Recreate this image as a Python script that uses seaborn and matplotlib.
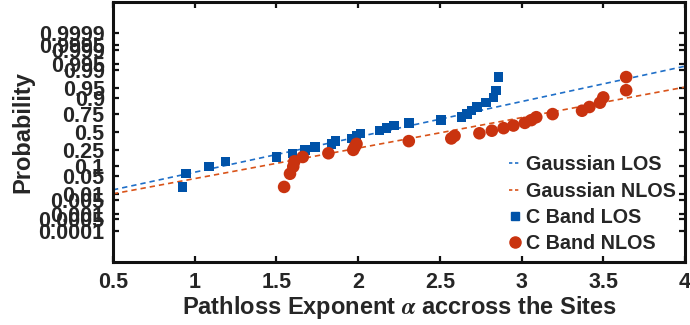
import numpy as np
import pandas as pd
import matplotlib
matplotlib.use("Agg")
import matplotlib.pyplot as plt
from matplotlib.lines import Line2D
import seaborn as sns
from statistics import NormalDist

# Pathloss exponents measured across the sites
alpha_los = [0.924, 0.947, 1.088, 1.19, 1.50, 1.60, 1.675, 1.736, 1.838, 1.863,
             1.96, 1.99, 2.016, 2.13, 2.175, 2.22, 2.31, 2.507, 2.634, 2.665,
             2.695, 2.726, 2.783, 2.827, 2.844, 2.858]
alpha_nlos = [1.547, 1.583, 1.603, 1.61, 1.661, 1.818, 1.97, 1.98, 1.99, 2.31,
              2.57, 2.59, 2.742, 2.818, 2.89, 2.95, 3.02, 3.06, 3.09, 3.19,
              3.37, 3.415, 3.48, 3.50, 3.64, 3.64]

# Fitted Gaussian parameters (mean, std) for each condition
gauss_los = (2.138, 0.751)
gauss_nlos = (2.528, 0.870)

prob_ticks = [0.0001, 0.0005, 0.001, 0.005, 0.01, 0.05, 0.1, 0.25, 0.5,
              0.75, 0.9, 0.95, 0.99, 0.995, 0.999, 0.9995, 0.9999]
x_ticks = [0.5, 1, 1.5, 2, 2.5, 3, 3.5, 4]

sns.set_style("ticks")
plt.rcParams["font.family"] = ["Liberation Sans", "DejaVu Sans"]
plt.rcParams["font.weight"] = "bold"
plt.rcParams["mathtext.fontset"] = "stix"

nd = NormalDist()
_inv = np.vectorize(nd.inv_cdf, otypes=[float])
_cdf = np.vectorize(nd.cdf, otypes=[float])


def ppf(p):
    p = np.asarray(p, dtype=float)
    out = np.full(p.shape, np.nan)
    ok = np.isfinite(p)
    if ok.any():
        out[ok] = _inv(np.clip(p[ok], 1e-15, 1 - 1e-15))
    return out


def cdf(z):
    z = np.asarray(z, dtype=float)
    out = np.full(z.shape, np.nan)
    ok = ~np.isnan(z)
    if ok.any():
        out[ok] = _cdf(np.clip(z[ok], -40, 40))
    return out


def plotting_positions(values):
    v = np.sort(np.asarray(values, dtype=float))
    n = len(v)
    return v, (np.arange(1, n + 1) - 0.5) / n


x_los, p_los = plotting_positions(alpha_los)
x_nlos, p_nlos = plotting_positions(alpha_nlos)
pts_los = pd.DataFrame({"alpha": x_los, "prob": p_los})
pts_nlos = pd.DataFrame({"alpha": x_nlos, "prob": p_nlos})

xg = np.linspace(0.5, 4.0, 200)
fits = pd.concat([
    pd.DataFrame({"alpha": xg, "prob": cdf((xg - gauss_los[0]) / gauss_los[1]),
                  "series": "Gaussian LOS"}),
    pd.DataFrame({"alpha": xg, "prob": cdf((xg - gauss_nlos[0]) / gauss_nlos[1]),
                  "series": "Gaussian NLOS"}),
], ignore_index=True)

fig = plt.figure(figsize=(6.9, 3.25), dpi=100)
ax = fig.add_axes([113 / 690, 1 - 262 / 325, 572 / 690, 260 / 325])
ax.set_yscale("function", functions=(ppf, cdf))

line_colors = {"Gaussian LOS": "#1f6fc8", "Gaussian NLOS": "#d95319"}
sns.lineplot(data=fits, x="alpha", y="prob", hue="series", palette=line_colors,
             ax=ax, linewidth=1.2, legend=False, estimator=None, sort=False)
for ln in ax.get_lines():
    ln.set_linestyle((0, (3.2, 2.4)))

marker_colors = {"C Band LOS": "#0052a8", "C Band NLOS": "#c9330f"}
sns.scatterplot(data=pts_los, x="alpha", y="prob",
                color=marker_colors["C Band LOS"], marker="s", s=46,
                edgecolor="none", ax=ax, zorder=3, legend=False)
sns.scatterplot(data=pts_nlos, x="alpha", y="prob",
                color=marker_colors["C Band NLOS"], marker="o", s=82,
                edgecolor="none", ax=ax, zorder=3, legend=False)

lim = nd.cdf(-4.9)
ax.set_xlim(0.5, 4.0)
ax.set_ylim(lim, 1 - lim)
ax.set_xticks(x_ticks)
ax.set_xticklabels([f"{t:g}" for t in x_ticks])
ax.set_yticks(prob_ticks)
ax.set_yticklabels([f"{t:g}" for t in prob_ticks])
ax.minorticks_off()

for sp in ax.spines.values():
    sp.set_linewidth(2.2)
    sp.set_color("#111111")
ax.tick_params(direction="in", length=4.5, width=1.6, labelsize=15.5,
               top=True, right=True, color="#111111")
ax.tick_params(axis="y", pad=6)
ax.tick_params(axis="x", pad=7)
for lab in ax.get_xticklabels() + ax.get_yticklabels():
    lab.set_fontweight("bold")

ax.set_xlabel(r"Pathloss Exponent $\alpha$ accross the Sites",
              fontsize=17, fontweight="bold", labelpad=1)
ax.set_ylabel("Probability", fontsize=17, fontweight="bold", labelpad=3)

handles = [
    Line2D([], [], color=line_colors["Gaussian LOS"], lw=1.2, ls=(0, (2, 1.6))),
    Line2D([], [], color=line_colors["Gaussian NLOS"], lw=1.2, ls=(0, (2, 1.6))),
    Line2D([], [], color=marker_colors["C Band LOS"], marker="s", ls="none", ms=6),
    Line2D([], [], color=marker_colors["C Band NLOS"], marker="o", ls="none", ms=8),
]
labels = ["Gaussian LOS", "Gaussian NLOS", "C Band LOS", "C Band NLOS"]
ax.legend(handles, labels, loc="lower right", frameon=False,
          prop={"weight": "bold", "size": 14.2}, handlelength=0.65,
          handletextpad=0.25, labelspacing=0.37, borderaxespad=0.05,
          bbox_to_anchor=(1.0, 0.0))

fig.savefig("out.png", dpi=100)
